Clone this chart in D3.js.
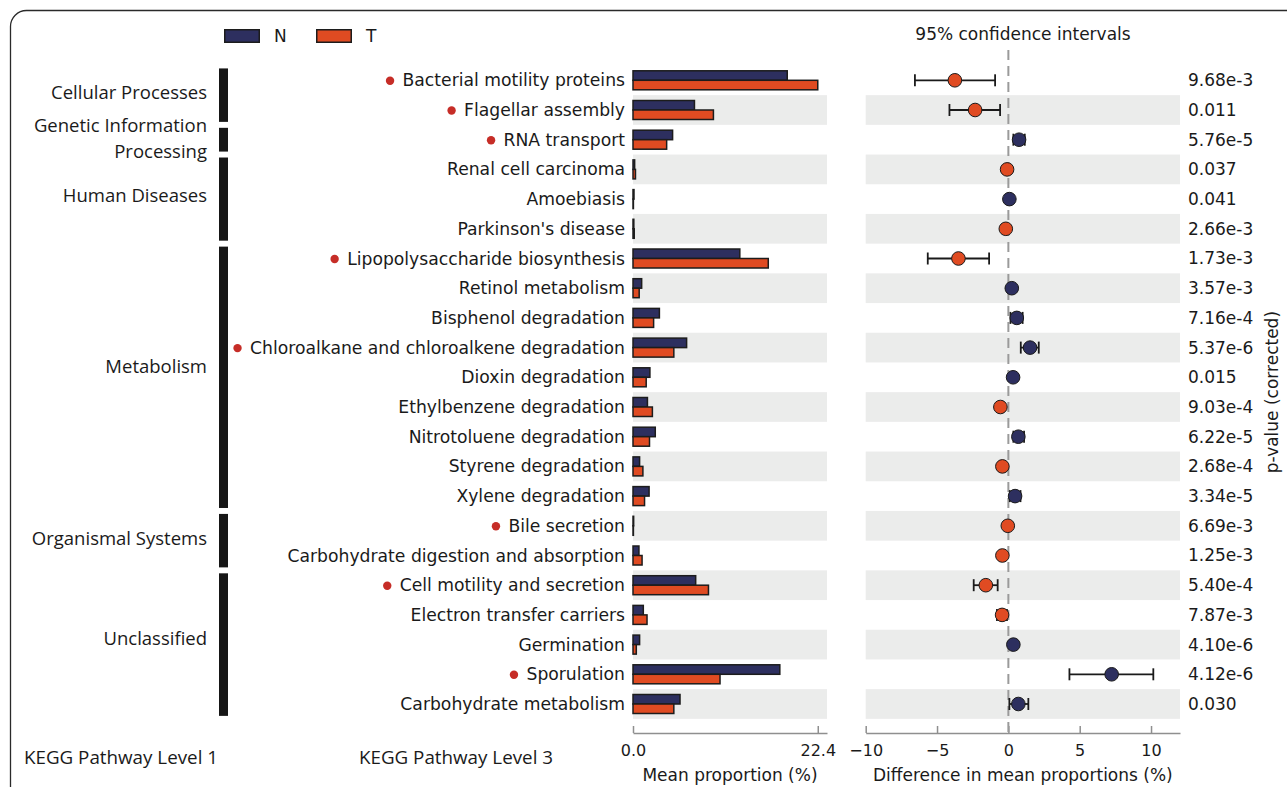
<!DOCTYPE html>
<html>
<head>
<meta charset="utf-8">
<script src="https://cdn.jsdelivr.net/npm/d3@7"></script>
<style>
  html, body { margin: 0; padding: 0; background: #ffffff; }
  svg { display: block; }
  .dv { font-family: "DejaVu Sans", sans-serif; fill: #1a1a1a; }
  .os { font-family: "Open Sans", sans-serif; fill: #1a1a1a; }
</style>
</head>
<body>
<svg id="chart" width="1287" height="787"></svg>
<script>
// KEGG level-3 pathways, top to bottom
const categories = [
  "Bacterial motility proteins", "Flagellar assembly", "RNA transport",
  "Renal cell carcinoma", "Amoebiasis", "Parkinson's disease",
  "Lipopolysaccharide biosynthesis", "Retinol metabolism", "Bisphenol degradation",
  "Chloroalkane and chloroalkene degradation", "Dioxin degradation",
  "Ethylbenzene degradation", "Nitrotoluene degradation", "Styrene degradation",
  "Xylene degradation", "Bile secretion", "Carbohydrate digestion and absorption",
  "Cell motility and secretion", "Electron transfer carriers", "Germination",
  "Sporulation", "Carbohydrate metabolism"
];

// Pathways flagged with a red dot
const flagged = [
  "Bacterial motility proteins", "Flagellar assembly", "RNA transport",
  "Lipopolysaccharide biosynthesis", "Chloroalkane and chloroalkene degradation",
  "Bile secretion", "Cell motility and secretion", "Sporulation"
];

// KEGG level-1 groups and how many level-3 rows each one spans
const groupNames = [
  "Cellular Processes", "Genetic Information\nProcessing", "Human Diseases",
  "Metabolism", "Organismal Systems", "Unclassified"
];
const groupSizes = [2, 1, 3, 9, 2, 5];

// Mean proportion (%) per group
const meanN = [18.7, 7.45, 4.8, 0.2, 0.12, 0.1, 12.95, 1.05, 3.2, 6.5, 2.05,
               1.75, 2.7, 0.8, 1.95, 0.08, 0.72, 7.6, 1.25, 0.8, 17.8, 5.7];
const meanT = [22.4, 9.75, 4.08, 0.3, 0.05, 0.15, 16.4, 0.75, 2.5, 4.95, 1.6,
               2.35, 2.0, 1.2, 1.4, 0.05, 1.1, 9.15, 1.7, 0.4, 10.55, 4.95];

// Difference in mean proportions (%) with 95% confidence interval
const diffMean = [-3.75, -2.33, 0.75, -0.09, 0.07, -0.18, -3.5, 0.24, 0.59, 1.52, 0.33,
                  -0.56, 0.7, -0.42, 0.47, -0.04, -0.42, -1.58, -0.44, 0.35, 7.24, 0.7];
const ciLow  = [-6.55, -4.13, 0.35, -0.2, 0.02, -0.3, -5.65, 0.15, 0.15, 0.87, 0.2,
                -0.75, 0.35, -0.6, 0.1, -0.1, -0.6, -2.43, -0.8, 0.25, 4.28, 0.07];
const ciHigh = [-0.93, -0.58, 1.15, 0.02, 0.12, -0.06, -1.35, 0.33, 1.0, 2.13, 0.45,
                -0.37, 1.1, -0.25, 0.85, 0.02, -0.25, -0.75, -0.1, 0.45, 10.16, 1.4];

// Corrected p-values as printed
const pValues = ["9.68e-3", "0.011", "5.76e-5", "0.037", "0.041", "2.66e-3", "1.73e-3",
                 "3.57e-3", "7.16e-4", "5.37e-6", "0.015", "9.03e-4", "6.22e-5", "2.68e-4",
                 "3.34e-5", "6.69e-3", "1.25e-3", "5.40e-4", "7.87e-3", "4.10e-6",
                 "4.12e-6", "0.030"];

const seriesNames = ["N", "T"];
const barTicks = [0, 22.4];
const diffTicks = [-10, -5, 0, 5, 10];

const colN = "#2d2f5f", colT = "#e04b22", stripe = "#ebeceb", edge = "#1c1c1c";
const axisGrey = "#8f8f8f";

const svg = d3.select("#chart");

// Outer frame
svg.append("rect")
  .attr("x", 10.5).attr("y", 10.5).attr("width", 1320).attr("height", 820)
  .attr("rx", 16).attr("fill", "none").attr("stroke", "#2a2a2a").attr("stroke-width", 1.3);

// Shared row layout
const rowStep = 29.7, rowTop = 65.45;
const y = d3.scaleBand().domain(categories)
  .range([rowTop, rowTop + rowStep * categories.length]).padding(0);
const yc = c => y(c) + y.bandwidth() / 2;

const xBar = d3.scaleLinear().domain([0, 22.4 * 1.05]).range([633, 827]);
const xDiff = d3.scaleLinear().domain([-10, 12.03]).range([865.7, 1180]);
const axisY = 733;

// Alternating row stripes in both panels
const striped = categories.filter((c, i) => i % 2 === 1);
[xBar, xDiff].forEach(sc => {
  svg.append("g").selectAll("rect").data(striped).join("rect")
    .attr("x", sc.range()[0]).attr("width", sc.range()[1] - sc.range()[0])
    .attr("y", d => y(d)).attr("height", y.bandwidth())
    .attr("fill", stripe);
});

// Legend
const legend = svg.append("g");
seriesNames.forEach((s, i) => {
  const lx = 224 + i * 92;
  legend.append("rect").attr("x", lx + 0.75).attr("y", 29.75).attr("width", 34.5).attr("height", 12.5)
    .attr("fill", i === 0 ? colN : colT).attr("stroke", edge).attr("stroke-width", 1.5);
  legend.append("text").attr("class", "dv").attr("x", lx + 50).attr("y", 42)
    .attr("font-size", 17).text(s);
});

// Level-1 group bars and labels
let start = 0;
const groupG = svg.append("g");
groupNames.forEach((g, gi) => {
  const first = categories[start], last = categories[start + groupSizes[gi] - 1];
  const y0 = yc(first) - 0.4 * rowStep, y1 = yc(last) + 0.4 * rowStep;
  groupG.append("rect").attr("x", 219).attr("width", 9)
    .attr("y", y0).attr("height", y1 - y0).attr("fill", "#161616");
  const mid = y0 + 0.46 * (y1 - y0);
  const lines = g.split("\n");
  lines.forEach((ln, li) => {
    groupG.append("text").attr("class", "os").attr("font-size", 18.5)
      .attr("text-anchor", "end").attr("x", 207)
      .attr("y", mid + (li - (lines.length - 1) / 2) * 25.2)
      .attr("dy", "0.34em").text(ln);
  });
  start += groupSizes[gi];
});

// Level-3 labels with red flag dots
const labG = svg.append("g");
categories.forEach(c => {
  const t = labG.append("text").attr("class", "dv").attr("font-size", 17.2)
    .attr("text-anchor", "end").attr("x", 625).attr("y", yc(c)).attr("dy", "0.35em").text(c);
  if (flagged.includes(c)) {
    const w = t.node().getComputedTextLength();
    labG.append("circle").attr("cx", 625 - w - 12.5).attr("cy", yc(c) + 0.5)
      .attr("r", 4.2).attr("fill", "#c62d27");
  }
});

// Mean proportion bars
const barH = 9.5;
const barG = svg.append("g");
barG.selectAll("rect.n").data(categories).join("rect")
  .attr("x", xBar(0)).attr("y", d => yc(d) - barH)
  .attr("width", (d, i) => xBar(meanN[i]) - xBar(0)).attr("height", barH)
  .attr("fill", colN).attr("stroke", edge).attr("stroke-width", 1.5);
barG.selectAll("rect.t").data(categories).join("rect")
  .attr("x", xBar(0)).attr("y", d => yc(d))
  .attr("width", (d, i) => xBar(meanT[i]) - xBar(0)).attr("height", barH)
  .attr("fill", colT).attr("stroke", edge).attr("stroke-width", 1.5);

// Axes
function styleAxis(g) {
  g.select(".domain").attr("stroke", axisGrey).attr("stroke-width", 1.5);
  g.selectAll(".tick line").attr("stroke", axisGrey).attr("stroke-width", 1.5);
  g.selectAll(".tick text").attr("font-family", "DejaVu Sans").attr("font-size", 16)
    .attr("fill", "#1a1a1a");
}
svg.append("g").attr("transform", `translate(0,${axisY})`)
  .call(d3.axisBottom(xBar).tickValues(barTicks).tickFormat(d3.format(".1f"))
    .tickSizeInner(-7).tickSizeOuter(0).tickPadding(11.5))
  .call(styleAxis);
svg.append("g").attr("transform", `translate(0,${axisY})`)
  .call(d3.axisBottom(xDiff).tickValues(diffTicks).tickFormat(d3.format("d"))
    .tickSizeInner(-7).tickSizeOuter(0).tickPadding(11.5))
  .call(styleAxis);

// Axis titles
svg.append("text").attr("class", "dv").attr("font-size", 17).attr("text-anchor", "middle")
  .attr("x", (633 + 827) / 2).attr("y", 781).text("Mean proportion (%)");
svg.append("text").attr("class", "dv").attr("font-size", 17).attr("text-anchor", "middle")
  .attr("x", (865.7 + 1180) / 2).attr("y", 781).text("Difference in mean proportions (%)");
svg.append("text").attr("class", "dv").attr("font-size", 17).attr("text-anchor", "middle")
  .attr("x", 1023).attr("y", 40).text("95% confidence intervals");
svg.append("text").attr("class", "os").attr("font-size", 18.8).attr("text-anchor", "middle")
  .attr("x", 121).attr("y", 764).text("KEGG Pathway Level 1");
svg.append("text").attr("class", "os").attr("font-size", 18.8).attr("text-anchor", "middle")
  .attr("x", 456).attr("y", 764).text("KEGG Pathway Level 3");

// Zero reference line
svg.append("line").attr("x1", xDiff(0)).attr("x2", xDiff(0)).attr("y1", 50).attr("y2", axisY)
  .attr("stroke", "#9a9a9a").attr("stroke-width", 2).attr("stroke-dasharray", "10,6");

// Confidence intervals and mean differences
const ciG = svg.append("g");
categories.forEach((c, i) => {
  const cy = yc(c);
  const g = ciG.append("g").attr("stroke", "#1a1a1a").attr("stroke-width", 1.8);
  g.append("line").attr("x1", xDiff(ciLow[i])).attr("x2", xDiff(ciHigh[i])).attr("y1", cy).attr("y2", cy);
  [ciLow[i], ciHigh[i]].forEach(v => {
    g.append("line").attr("x1", xDiff(v)).attr("x2", xDiff(v)).attr("y1", cy - 6).attr("y2", cy + 6);
  });
  ciG.append("circle").attr("cx", xDiff(diffMean[i])).attr("cy", cy).attr("r", 6.8)
    .attr("fill", diffMean[i] < 0 ? colT : colN).attr("stroke", "#1a1a1a").attr("stroke-width", 1);
});

// p-values
svg.append("g").selectAll("text").data(categories).join("text")
  .attr("class", "dv").attr("font-size", 17)
  .attr("x", 1188).attr("y", d => yc(d)).attr("dy", "0.35em")
  .text((d, i) => pValues[i]);
svg.append("text").attr("class", "dv").attr("font-size", 17).attr("text-anchor", "middle")
  .attr("transform", `translate(1278,${(yc(categories[0]) + yc(categories[categories.length - 1])) / 2}) rotate(-90)`)
  .text("p-value (corrected)");
</script>
</body>
</html>
